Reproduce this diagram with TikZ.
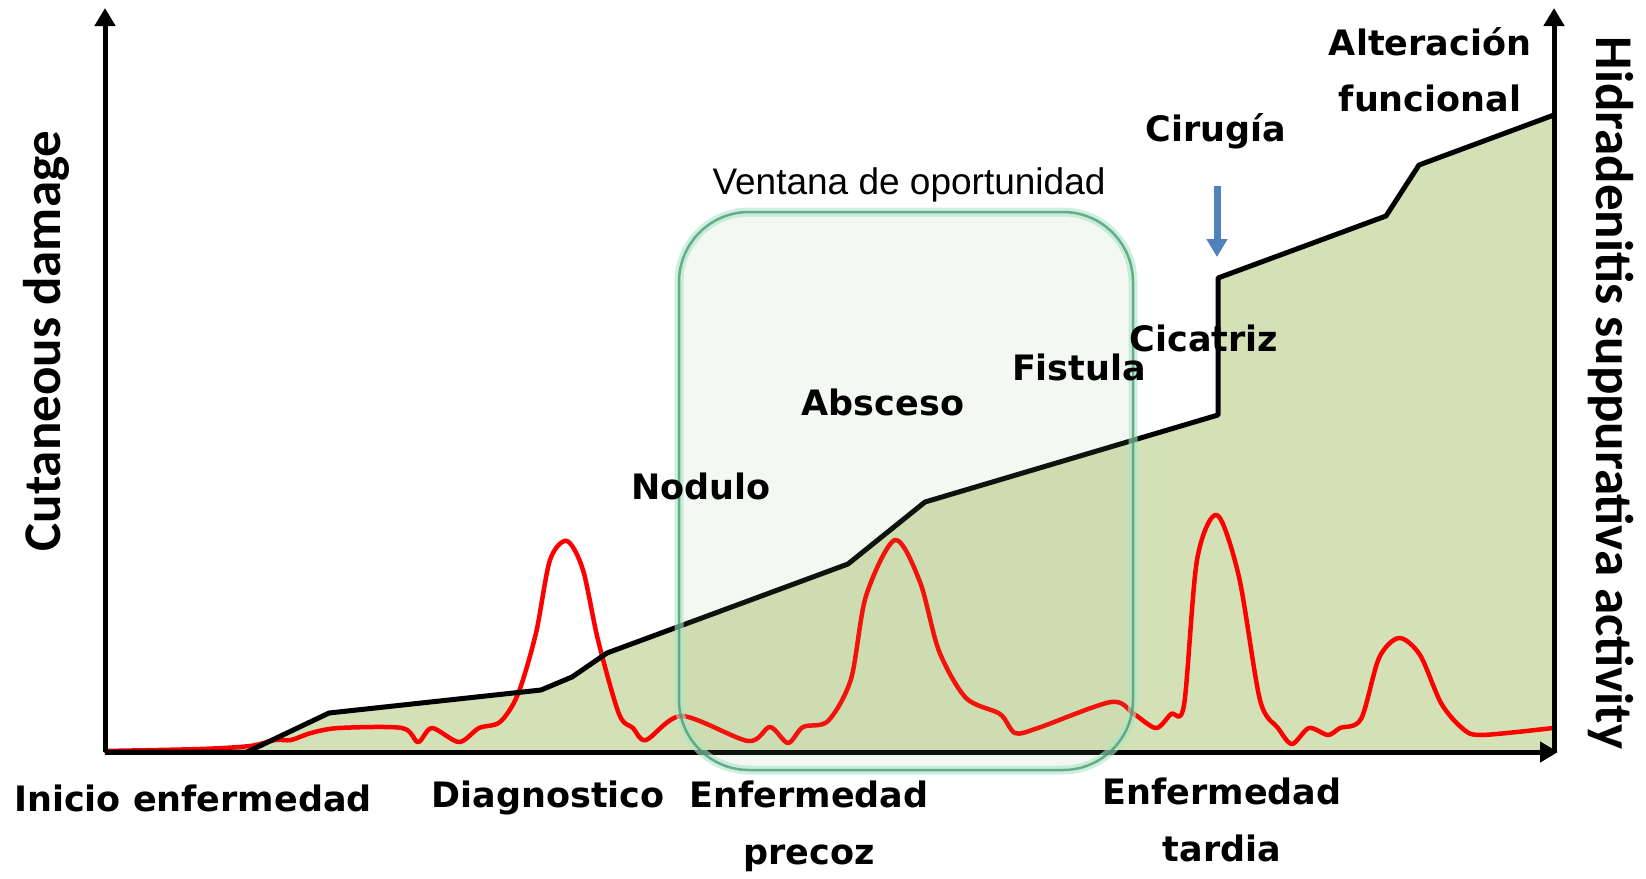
\documentclass[tikz,border=0pt]{standalone}
\usepackage{fontspec}
\setmainfont{DejaVu Sans}
\newfontfamily\calibrifont{Carlito}
\newfontfamily\arialfont{Liberation Sans}
\usetikzlibrary{arrows.meta}
\definecolor{areagreen}{RGB}{212,225,183}
\definecolor{boxgreen}{RGB}{145,190,130}
\definecolor{edgegreen}{RGB}{70,150,110}
\definecolor{mintglow}{RGB}{170,230,200}
\definecolor{arrowblue}{RGB}{79,129,189}

\begin{document}
\begin{tikzpicture}[x=1pt, y=-1pt,
    lbl/.style={font=\fontsize{35}{57}\selectfont\bfseries, align=center},
    axlbl/.style={font=\calibrifont\fontsize{53}{60}\selectfont\bfseries},
    axis/.style={line width=5pt, -{Triangle[width=20pt,length=18pt]}},
    damage/.style={line width=5pt, line join=round},
    activity/.style={line width=4.5pt, red, line join=round}]
  \useasboundingbox (0,0) rectangle (1646,878);

  % axes end points
  \coordinate (O) at (105,752);
  \coordinate (ytop) at (105,8);
  \coordinate (xend) at (1558,752);
  \coordinate (R) at (1554,752);
  \coordinate (y2top) at (1554,8);

  % cutaneous damage
  \fill[areagreen] (247,752) -- (329,713) -- (541,690) -- (572,677) -- (607,653)
    -- (848,564) -- (925,502) -- (1218,415) -- (1218,278) -- (1386,216)
    -- (1419,165) -- (1554,115) -- (R) -- cycle;

  % suppurative activity
  \draw[activity] plot[smooth, tension=0.5] coordinates {
    (104,751) (200,749) (250,746) (275,740) (291,740) (311,733) (339,728)
    (402,728) (418,742) (432,728) (459,742) (479,728) (500,722) (518,694)
    (536,633) (550,560) (567,541) (583,570) (598,640) (619,714) (633,728)
    (646,740) (682,716) (748,741) (770,727) (788,743) (803,727) (828,721)
    (851,679) (866,596) (895,540) (920,582) (939,651) (966,698) (1000,714)
    (1015,733) (1038,728) (1111,702) (1134,714) (1156,728) (1171,714)
    (1184,705) (1197,560) (1217,515) (1239,577) (1260,700) (1278,728)
    (1292,744) (1309,728) (1328,735) (1340,728) (1361,719) (1379,658)
    (1399,638) (1420,655) (1441,703) (1462,728) (1481,735) (1553,728)};

  \draw[damage] (O) -- (247,752) -- (329,713) -- (541,690) -- (572,677)
    -- (607,653) -- (848,564) -- (925,502) -- (1218,415) -- (1218,278)
    -- (1386,216) -- (1419,165) -- (1554,115);

  \draw[axis] (O) -- (ytop);
  \draw[axis] (O) -- (xend);
  \draw[axis] (R) -- (y2top);

  % ventana de oportunidad
  \path[fill=boxgreen, fill opacity=0.1, draw=mintglow, draw opacity=0.6,
    line width=9pt, rounded corners=70pt] (679,212) rectangle (1133,770);
  \draw[edgegreen, opacity=0.75, line width=2.5pt, rounded corners=70pt]
    (679,212) rectangle (1133,770);

  % cirugia
  \coordinate (cirA) at (1217,186);
  \coordinate (cirB) at (1217,257);
  \draw[arrowblue, line width=7pt, -{Triangle[width=20pt,length=18pt]}] (cirA) -- (cirB);

  \node[lbl] (inicio) at (193,798) {Inicio enfermedad};
  \node[lbl] (diagnostico) at (548,798) {Diagnostico};
  \node[lbl] (precoz) at (809,826) {Enfermedad\\precoz};
  \node[lbl] (tardia) at (1222,820) {Enfermedad\\tardia};
  \node[lbl] (nodulo) at (701,486) {Nodulo};
  \node[lbl] (absceso) at (883,402) {Absceso};
  \node[lbl] (fistula) at (1079,367) {Fistula};
  \node[lbl] (cicatriz) at (1204,338) {Cicatriz};
  \node[lbl] (cirugia) at (1216,131) {Cirugía};
  \node[lbl, font=\fontsize{35}{56}\selectfont\bfseries] (alteracion) at (1430,70) {Alteración\\funcional};
  \node[font=\arialfont\fontsize{37}{42}\selectfont] (ventana) at (909,185) {Ventana de oportunidad};
  \node[axlbl, rotate=90] (ylabel) at (46,341) {Cutaneous damage};
  \node[axlbl, rotate=-90] (y2label) at (1611,393) {Hidradenitis suppurativa activity};
\end{tikzpicture}
\end{document}
